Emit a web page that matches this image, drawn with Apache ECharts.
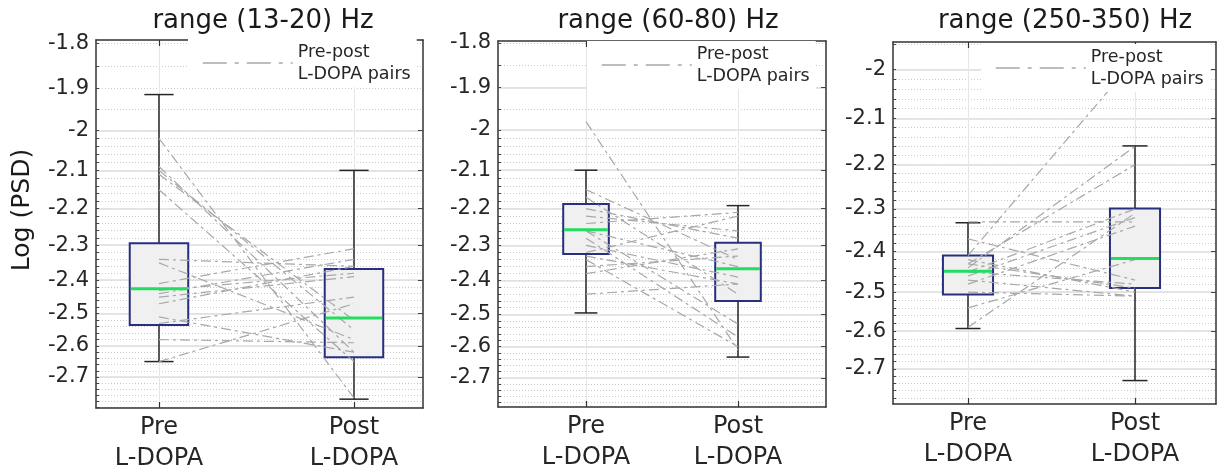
<!DOCTYPE html>
<html><head><meta charset="utf-8">
<script src="https://cdn.jsdelivr.net/npm/echarts@6/dist/echarts.min.js"></script>
<style>html,body{margin:0;padding:0;background:#fff}#c{width:1218px;height:470px}</style>
</head><body><div id="c"></div>
<script>
// ---------- data ----------
const titles = ['range (13-20) Hz', 'range (60-80) Hz', 'range (250-350) Hz'];
const categories = ['Pre\nL-DOPA', 'Post\nL-DOPA'];
const yTickLabels = [-1.8, -1.9, -2, -2.1, -2.2, -2.3, -2.4, -2.5, -2.6, -2.7];
const legendName = 'Pre-post\nL-DOPA pairs';
// box statistics: [lower whisker, q1, median, q3, upper whisker]
const box1Pre  = [-2.65, -2.535, -2.425, -2.295, -1.915];
const box1Post = [-2.774, -2.636, -2.513, -2.368, -2.10];
const box2Pre  = [-2.496, -2.324, -2.257, -2.188, -2.10];
const box2Post = [-2.633, -2.460, -2.366, -2.293, -2.192];
const box3Pre  = [-2.593, -2.506, -2.448, -2.410, -2.332];
const box3Post = [-2.732, -2.490, -2.417, -2.299, -2.159];
// paired subjects
const pre1  = [-2.02, -2.09, -2.10, -2.11, -2.15, -2.34, -2.35, -2.41, -2.43, -2.44, -2.45, -2.47, -2.51, -2.53, -2.58, -2.65];
const post1 = [-2.77, -2.62, -2.55, -2.52, -2.65, -2.36, -2.58, -2.31, -2.38, -2.34, -2.39, -2.36, -2.62, -2.45, -2.59, -2.47];
const pre2  = [-1.98, -2.15, -2.17, -2.20, -2.22, -2.24, -2.26, -2.28, -2.30, -2.32, -2.33, -2.34, -2.36, -2.38, -2.44, -2.26];
const post2 = [-2.61, -2.34, -2.44, -2.28, -2.26, -2.21, -2.36, -2.57, -2.39, -2.22, -2.41, -2.60, -2.33, -2.31, -2.41, -2.53];
const pre3  = [-2.41, -2.33, -2.37, -2.43, -2.44, -2.45, -2.46, -2.47, -2.43, -2.48, -2.50, -2.54, -2.59, -2.45, -2.42];
const post3 = [-1.98, -2.33, -2.47, -2.20, -2.16, -2.30, -2.32, -2.51, -2.49, -2.34, -2.51, -2.42, -2.31, -2.48, -2.50];

// ---------- layout ----------
const FONT = 'DejaVu Sans';
const T = v => Math.log10(-v);          // log scale of negative values
const panels = [
  { grid: {left: 96, top: 40, width: 327, height: 368}, xr: [0.677, 2.354], yr: [-1.792, -2.804],
    boxes: [box1Pre, box1Post], pre: pre1, post: post1, leg: {left: 188, top: 39}, solidFrom: -2, titleX: 258 },
  { grid: {left: 498, top: 41, width: 328, height: 366}, xr: [0.421, 2.579], yr: [-1.796, -2.797],
    boxes: [box2Pre, box2Post], pre: pre2, post: post2, leg: {left: 587, top: 41}, solidFrom: -1.9, titleX: 663 },
  { grid: {left: 893, top: 42, width: 323, height: 362}, xr: [0.551, 2.485], yr: [-1.9453, -2.797],
    boxes: [box3Pre, box3Post], pre: pre3, post: post3, leg: {left: 981, top: 44}, solidFrom: -2, titleX: 1060 }
];
const minorVals = [-1.8, -1.85, -1.9, -1.95];
for (let k = 0; k <= 40; k++) minorVals.push(-(2 + k * 0.02));

const fmtY = v => '-' + String(Math.round(Math.pow(10, v) * 10) / 10);
const axisLineStyle = {color: '#333', width: 1.5};

const grids = [], xAxes = [], yAxes = [], series = [], legends = [], titleArr = [];
panels.forEach((p, i) => {
  grids.push(Object.assign({outerBoundsMode: 'none', containLabel: false}, p.grid));
  const ymin = T(p.yr[0]), ymax = T(p.yr[1]);
  const common = {gridIndex: i, type: 'value', min: p.xr[0], max: p.xr[1]};
  xAxes.push(Object.assign({}, common, {
    position: 'bottom',
    axisLine: {show: true, onZero: false, lineStyle: axisLineStyle},
    axisTick: {show: true, inside: true, length: 6, customValues: [1, 2], lineStyle: {color: '#333', width: 1.2}},
    axisLabel: {customValues: [1, 2], formatter: v => categories[Math.round(v) - 1],
      fontSize: 24, lineHeight: 31, color: '#262626', fontFamily: FONT, margin: 4},
    splitLine: {show: true, lineStyle: {color: '#e6e6e6', width: 1}}
  }));
  xAxes.push(Object.assign({}, common, {
    position: 'top',
    axisLine: {show: true, onZero: false, lineStyle: axisLineStyle},
    axisTick: {show: true, inside: true, length: 6, customValues: [1, 2], lineStyle: {color: '#333', width: 1.2}},
    axisLabel: {show: false}, splitLine: {show: false}
  }));
  const ycommon = {gridIndex: i, type: 'value', inverse: true, min: ymin, max: ymax};
  yAxes.push(Object.assign({}, ycommon, {
    position: 'left',
    axisLine: {show: true, onZero: false, lineStyle: axisLineStyle},
    axisTick: {show: true, inside: true, length: 3, customValues: minorVals.map(T), lineStyle: {color: '#444', width: 1}},
    axisLabel: {customValues: yTickLabels.map(T), formatter: fmtY, fontSize: 21, color: '#262626', fontFamily: FONT, margin: 7},
    splitLine: {show: true, lineStyle: {color: '#c9c9c9', width: 1, type: [1, 2]}}
  }));
  const solid = yTickLabels.filter(v => v <= p.solidFrom + 1e-9);
  yAxes.push(Object.assign({}, ycommon, {
    position: 'right',
    axisLine: {show: true, onZero: false, lineStyle: axisLineStyle},
    axisTick: {show: true, inside: true, length: 5, customValues: solid.map(T), lineStyle: {color: '#444', width: 1}},
    axisLabel: {show: false},
    splitLine: {show: true, lineStyle: {color: '#dedede', width: 1.5}}
  }));
  // boxes
  series.push({
    type: 'custom', xAxisIndex: 2 * i, yAxisIndex: 2 * i, z: 2, silent: true,
    data: p.boxes.map((b, j) => [j + 1].concat(b.map(T))),
    renderItem: (params, api) => {
      const x = api.value(0);
      const lo = api.coord([x, api.value(1)]), q1 = api.coord([x, api.value(2)]);
      const q3 = api.coord([x, api.value(4)]), hi = api.coord([x, api.value(5)]);
      const hw = api.size([0.15, 0])[0], cw = api.size([0.075, 0])[0];
      const wl = {stroke: '#262626', lineWidth: 1.5};
      return {type: 'group', children: [
        {type: 'line', shape: {x1: hi[0], y1: hi[1], x2: q3[0], y2: q3[1]}, style: wl},
        {type: 'line', shape: {x1: q1[0], y1: q1[1], x2: lo[0], y2: lo[1]}, style: wl},
        {type: 'line', shape: {x1: hi[0] - cw, y1: hi[1], x2: hi[0] + cw, y2: hi[1]}, style: wl},
        {type: 'line', shape: {x1: lo[0] - cw, y1: lo[1], x2: lo[0] + cw, y2: lo[1]}, style: wl},
        {type: 'rect', shape: {x: q3[0] - hw, y: Math.min(q1[1], q3[1]), width: 2 * hw, height: Math.abs(q1[1] - q3[1])},
          style: {fill: '#f0f0f0', stroke: '#262f80', lineWidth: 2}}
      ]};
    }
  });
  // pairs
  p.pre.forEach((a, k) => {
    series.push({
      type: 'line', name: legendName, xAxisIndex: 2 * i, yAxisIndex: 2 * i, z: 3, silent: true,
      symbol: 'none', data: [[1, T(a)], [2, T(p.post[k])]],
      lineStyle: {color: '#a8a8a8', width: 1.2, type: [10, 4, 3, 4]}, emphasis: {disabled: true}
    });
  });
  // medians
  series.push({
    type: 'custom', xAxisIndex: 2 * i, yAxisIndex: 2 * i, z: 4, silent: true,
    data: p.boxes.map((b, j) => [j + 1, T(b[2])]),
    renderItem: (params, api) => {
      const c = api.coord([api.value(0), api.value(1)]);
      const hw = api.size([0.15, 0])[0];
      return {type: 'line', shape: {x1: c[0] - hw + 1, y1: c[1], x2: c[0] + hw - 1, y2: c[1]},
        style: {stroke: '#22dd5e', lineWidth: 3}};
    }
  });
  legends.push({
    data: [legendName], left: p.leg.left, top: p.leg.top, orient: 'vertical',
    padding: [2, 6, 2, 14], itemWidth: 90, itemHeight: 12, backgroundColor: '#fff',
    selectedMode: false, z: 10,
    itemStyle: {opacity: 0, color: 'rgba(0,0,0,0)', borderWidth: 0},
    textStyle: {fontSize: 17.5, lineHeight: 22, color: '#262626', fontFamily: FONT},
    lineStyle: {color: '#a8a8a8', width: 1.5, type: [24, 8, 4, 8], opacity: 1}
  });
  titleArr.push({text: titles[i], left: p.titleX, top: 3, textAlign: 'center',
    textStyle: {fontSize: 26, fontWeight: 'normal', color: '#1a1a1a', fontFamily: FONT}});
});

const chart = echarts.init(document.getElementById('c'), null, {renderer: 'canvas'});
chart.setOption({
  animation: false,
  backgroundColor: '#fff',
  title: titleArr,
  legend: legends,
  grid: grids, xAxis: xAxes, yAxis: yAxes, series: series,
  graphic: [{type: 'text', x: 22, y: 210, rotation: Math.PI / 2,
    style: {text: 'Log (PSD)', font: '25px "DejaVu Sans"', fill: '#1a1a1a', align: 'center', verticalAlign: 'middle'}}]
});
</script></body></html>
